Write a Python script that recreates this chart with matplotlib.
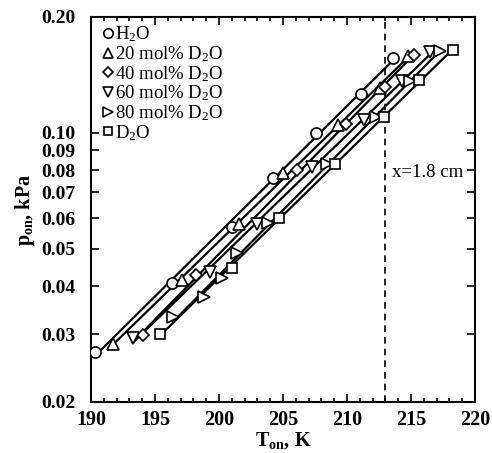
"""Onset pressure vs onset temperature for H2O/D2O mixtures."""

import matplotlib
matplotlib.use("Agg")
import matplotlib.pyplot as plt
import numpy as np
from matplotlib.ticker import FixedLocator, FixedFormatter, MultipleLocator, NullLocator

plt.rcParams["font.family"] = ["Liberation Serif", "DejaVu Serif"]
plt.rcParams["mathtext.fontset"] = "custom"
plt.rcParams["mathtext.rm"] = "Liberation Serif"
plt.rcParams["mathtext.it"] = "Liberation Serif:italic"
plt.rcParams["mathtext.bf"] = "Liberation Serif:bold"

# onset temperature (K) and onset pressure (kPa) for each mixture
t_h2o = [190.3, 196.3, 201.0, 204.2, 207.6, 211.1, 213.6]
p_h2o = [0.0270, 0.0408, 0.0570, 0.0765, 0.100, 0.126, 0.156]

t_d20 = [191.7, 197.1, 201.6, 205.0, 209.3, 212.6, 214.8]
p_d20 = [0.0283, 0.0415, 0.0580, 0.0787, 0.1048, 0.131, 0.158]

t_d40 = [194.1, 198.2, 206.1, 209.9, 213.0, 215.2]
p_d40 = [0.0299, 0.0427, 0.0801, 0.1055, 0.1316, 0.159]

t_d60 = [193.3, 199.3, 203.0, 207.3, 211.3, 214.3, 216.5]
p_d60 = [0.0293, 0.0435, 0.0580, 0.0815, 0.108, 0.136, 0.162]

t_d80 = [196.4, 198.8, 200.2, 201.4, 203.8, 208.4, 212.3, 214.9, 217.3]
p_d80 = [0.0332, 0.0375, 0.0420, 0.0488, 0.0583, 0.083, 0.110, 0.1365, 0.163]

t_d2o = [195.4, 201.0, 204.7, 209.1, 212.9, 215.6, 218.3]
p_d2o = [0.0300, 0.0446, 0.0600, 0.0830, 0.110, 0.137, 0.164]

labels = ["H$_2$O", "20 mol% D$_2$O", "40 mol% D$_2$O",
          "60 mol% D$_2$O", "80 mol% D$_2$O", "D$_2$O"]
markers = ["o", "^", "D", "v", ">", "s"]
marker_sizes = [8, 8, 6, 8, 8, 7]

x_cut = 213.0
y_ticks = [0.02, 0.03, 0.04, 0.05, 0.06, 0.07, 0.08, 0.09, 0.10, 0.20]
y_tick_labels = ["0.02", "0.03", "0.04", "0.05", "0.06", "0.07", "0.08",
                 "0.09", "0.10", "0.20"]

series = [(t_h2o, p_h2o), (t_d20, p_d20), (t_d40, p_d40),
          (t_d60, p_d60), (t_d80, p_d80), (t_d2o, p_d2o)]

fig = plt.figure(figsize=(4.92, 4.53), dpi=100)
ax = fig.add_axes([0.185, 0.1126, 0.7804, 0.85])

for (t, p), lab, m, ms in zip(series, labels, markers, marker_sizes):
    t = np.asarray(t)
    p = np.asarray(p)
    # straight fit of log p against T across the measured range
    b, a = np.polyfit(t, np.log10(p), 1)
    tt = np.array([t.min(), t.max()])
    ax.plot(tt, 10 ** (a + b * tt), color="black", lw=1.6, zorder=2)
    ax.plot(t, p, linestyle="none", marker=m, ms=ms, mfc="white",
            mec="black", mew=1.2, zorder=3, label=lab)

ax.axvline(x_cut, color="black", lw=1.2, ls=(0, (4, 3)), zorder=1)
ax.text(x_cut + 0.5, 0.079, "x=1.8 cm", fontsize=13.5, va="center", ha="left")

ax.set_xlim(190, 220)
ax.set_yscale("log")
ax.set_ylim(0.02, 0.20)
ax.xaxis.set_major_locator(MultipleLocator(5))
ax.xaxis.set_minor_locator(MultipleLocator(1))
ax.yaxis.set_major_locator(FixedLocator(y_ticks))
ax.yaxis.set_major_formatter(FixedFormatter(y_tick_labels))
ax.yaxis.set_minor_locator(NullLocator())

ax.tick_params(which="both", direction="in", top=True, right=True,
               width=1.2, labelsize=14.5)
ax.tick_params(which="major", length=6)
ax.tick_params(which="minor", length=3)
ax.tick_params(axis="y", pad=11, labelsize=14)
ax.tick_params(axis="x", pad=6)
for lab in ax.get_xticklabels() + ax.get_yticklabels():
    lab.set_fontweight("bold")
for s in ax.spines.values():
    s.set_linewidth(1.5)

ax.set_xlabel(r"$\mathbf{T_{on}}$, K", fontsize=14.5, fontweight="bold",
              labelpad=0)
ax.set_ylabel(r"$\mathbf{p_{on}}$, kPa", fontsize=14.5, fontweight="bold",
              labelpad=3)

ax.legend(loc="upper left", bbox_to_anchor=(0.01, 1.0), frameon=False,
          fontsize=13.5, handlelength=0.6, handletextpad=0.05,
          labelspacing=0.0, borderaxespad=0.1, borderpad=0.3,
          markerscale=0.85)

fig.savefig("out.png", dpi=100)
